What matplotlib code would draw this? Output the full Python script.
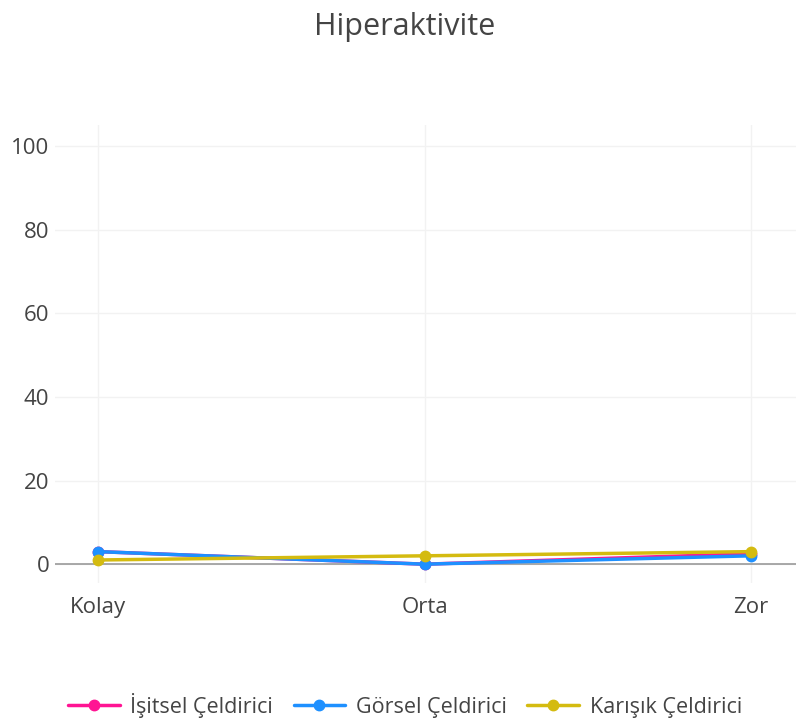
import matplotlib
matplotlib.use("Agg")
import matplotlib.pyplot as plt

categories = ["Kolay", "Orta", "Zor"]
series_names = ["İşitsel Çeldirici", "Görsel Çeldirici", "Karışık Çeldirici"]
isitsel = [3, 0, 2.5]
gorsel = [3, 0, 2]
karisik = [1, 2, 3]
yticks = [0, 20, 40, 60, 80, 100]
colors = ["#ff1493", "#1e90ff", "#d4bb10"]

plt.rcParams['font.family'] = ['Open Sans', 'DejaVu Sans']
txt = "#444444"

fig = plt.figure(figsize=(8.1, 7.25), dpi=100)
ax = fig.add_axes([55/810, 1-583/725, (796-55)/810, (583-125)/725])

x = list(range(len(categories)))
for vals, name, c in zip([isitsel, gorsel, karisik], series_names, colors):
    ax.plot(x, vals, color=c, lw=2.5, marker='o', ms=7.5, label=name,
            solid_capstyle='round', zorder=3)

ax.set_xlim(-0.132, 2.138)
ax.set_ylim(-4.5, 105)
ax.set_xticks(x)
ax.set_xticklabels(categories)
ax.set_yticks(yticks)
ax.grid(True, color="#f2f2f2", lw=1)
ax.set_axisbelow(True)
ax.axhline(0, color="#9a9a9a", lw=1.2, zorder=2)
for s in ax.spines.values():
    s.set_visible(False)
ax.tick_params(length=0, colors=txt, labelsize=16)
ax.tick_params(axis='x', pad=10)
ax.tick_params(axis='y', pad=4)

fig.text(0.5, 1-27/725, "Hiperaktivite", ha='center', va='center', fontsize=22, color=txt)

leg = fig.legend(loc='center', bbox_to_anchor=(0.5, 1-705/725), ncol=3, frameon=False,
                 fontsize=15.5, handlelength=2.4, handletextpad=0.5, columnspacing=0.95)
for t in leg.get_texts():
    t.set_color(txt)

fig.savefig("out.png", dpi=100)
